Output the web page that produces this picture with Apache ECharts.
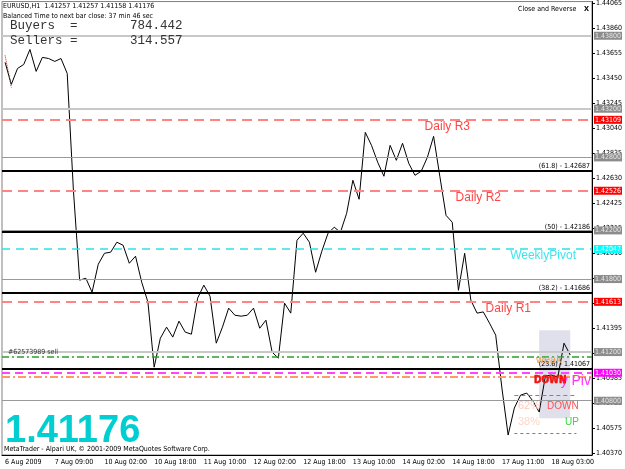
<!DOCTYPE html>
<html>
<head>
<meta charset="utf-8">
<script src="https://cdn.jsdelivr.net/npm/echarts@6/dist/echarts.min.js"></script>
<style>
html,body{margin:0;padding:0;background:#fff}
#main{width:625px;height:469px}
</style>
</head>
<body>
<div id="main"></div>
<script>
// trading hours shown on the H1 chart: day, first hour, last hour
var sessions = [['6 Aug',17,23],['7 Aug',0,22],['10 Aug',0,23],['11 Aug',0,23],['12 Aug',0,23],
    ['13 Aug',0,23],['14 Aug',0,22],['17 Aug',0,23],['18 Aug',0,23]];
// close every 2 hours
var closes = [1.43581,1.43400,1.43531,1.43564,1.43687,1.43507,1.43622,1.43613,1.43589,1.43613,
    1.43490,1.42530,1.41791,1.41807,1.41692,1.41922,1.42012,1.42021,1.42103,1.42078,
    1.41930,1.41988,1.41774,1.41610,1.41076,1.41314,1.41405,1.41323,1.41454,1.41364,
    1.41347,1.41643,1.41750,1.41659,1.41273,1.41405,1.41561,1.41503,1.41495,1.41503,
    1.41561,1.41396,1.41462,1.41199,1.41150,1.41602,1.41520,1.42119,1.42177,1.42103,
    1.41856,1.42029,1.42177,1.42226,1.42185,1.42341,1.42612,1.42456,1.43006,1.42899,
    1.42760,1.42645,1.42899,1.42776,1.42916,1.42751,1.42653,1.42686,1.42801,1.42973,
    1.42645,1.42324,1.42267,1.41708,1.42012,1.41626,1.41520,1.41530,1.41438,1.41339,
    1.40904,1.40518,1.40740,1.40846,1.40863,1.40797,1.40707,1.41002,1.41011,1.40994,
    1.41273,1.41176];
var zigzag = [1.43638,1.43375];
var yTicks = [1.40370,1.40575,1.40780,1.40985,1.41190,1.41395,1.41600,1.41805,1.42010,1.42215,
    1.42425,1.42630,1.42835,1.43040,1.43245,1.43450,1.43655,1.43860,1.44065];
var levelsLight = [1.43800,1.43200,1.41200];
var levelsThin = [1.42800,1.42200,1.41800,1.40800];
var dailyNames = ['Daily R3','Daily R2','Daily R1'];
var dailyLevels = [1.43109,1.42526,1.41613];
var weeklyPivot = 1.42047;
var fibNames = ['61.8','50','38.2','23.6'];
var fibLevels = [1.42687,1.42186,1.41686,1.41067];
var sellOrder = 1.41160;
var dailyPivot = 1.41030;
var orangeLevel = 1.40995;
var zone = [86,91,1.41380,1.40657];
var targetDown = 1.40846, targetUp = 1.40534;

var small = "'DejaVu Sans Condensed','Liberation Sans',sans-serif";
var sans = "'Liberation Sans',Arial,sans-serif";
var none = 'rgba(0,0,0,0)';

var hours = [];
sessions.forEach(function (s) {
    for (var h = s[1]; h <= s[2]; h++) hours.push(s[0] + ' ' + (h < 10 ? '0' : '') + h + ':00');
});
var categories = hours.filter(function (t, i) { return i % 2 === 0; }).slice(0, 95);

function tag(bg, fg) {
    return {show: true, position: 'end', distance: 2, backgroundColor: bg, color: fg,
        padding: [1, 1, 0, 1], fontSize: 7, fontFamily: small,
        formatter: function (p) { return p.value.toFixed(5); }};
}
function text(s, pos, color, size, padRight) {
    return {show: true, position: pos, distance: 1, formatter: s, color: color,
        fontSize: size, fontFamily: size > 9 ? sans : small, padding: [0, padRight || 0, 0, 0]};
}

var lines = [];
levelsLight.forEach(function (v) {
    lines.push({yAxis: v, lineStyle: {color: '#c8c8c8', width: 2, type: 'solid'}, label: tag('#8c8c8c', '#e8e8e8')});
});
levelsThin.forEach(function (v) {
    lines.push({yAxis: v, lineStyle: {color: '#9a9a9a', width: 1, type: 'solid'}, label: tag('#8c8c8c', '#e8e8e8')});
});
var dailyPad = [121, 90, 60];
dailyLevels.forEach(function (v, i) {
    lines.push({yAxis: v, lineStyle: {color: '#ff8585', width: 2, type: [10, 6]}, label: tag('#ff0000', '#ffffff')});
    lines.push({yAxis: v, lineStyle: {color: none}, label: text(dailyNames[i], 'insideEndBottom', '#ff4545', 12, dailyPad[i])});
});
lines.push({yAxis: weeklyPivot, lineStyle: {color: '#30e0e8', width: 1.5, type: [8, 6]}, label: tag('#00ffff', '#ffffff')});
lines.push({yAxis: weeklyPivot, lineStyle: {color: none}, label: text('WeeklyPivot', 'insideEndBottom', '#3ee4ee', 12, 15)});
lines.push({yAxis: sellOrder, lineStyle: {color: '#2ea02e', width: 1.5, type: [7, 3, 2, 3]},
    label: {show: true, position: 'insideStartTop', distance: 1, formatter: '#62573989 sell', color: '#333', fontSize: 7, fontFamily: small, padding: [0, 0, 0, 5]}});
lines.push({yAxis: orangeLevel, lineStyle: {color: '#ff9966', width: 2, type: [8, 3, 2, 3]}, label: {show: false}});
lines.push({yAxis: dailyPivot, lineStyle: {color: '#ff44ff', width: 2, type: [8, 5]}, label: tag('#ff00ff', '#ffffff')});
lines.push({yAxis: dailyPivot, lineStyle: {color: none}, label: text('y Piv', 'insideEndBottom', '#ff33ff', 14, 0)});
fibLevels.forEach(function (v, i) {
    lines.push({yAxis: v, lineStyle: {color: '#000', width: 2, type: 'solid'},
        label: text('(' + fibNames[i] + ') - ' + v.toFixed(5), 'insideEndTop', '#000', 7, 1)});
});
lines.push([{coord: [82, targetDown], lineStyle: {color: '#ff5050', width: 1, type: [4, 3]}}, {coord: [92, targetDown]}]);
lines.push([{coord: [82, targetUp], lineStyle: {color: '#808080', width: 1, type: [3, 3]}}, {coord: [92, targetUp]}]);

var myChart = echarts.init(document.getElementById('main'));
var option = {
    animation: false,
    backgroundColor: '#fff',
    grid: {left: 2, right: 32, top: 1, bottom: 14, show: true, borderColor: '#808080', borderWidth: 1},
    xAxis: {
        type: 'category', data: categories, boundaryGap: true,
        axisLine: {lineStyle: {color: '#000'}},
        axisTick: {interval: 7, alignWithLabel: true, length: 4, lineStyle: {color: '#000'}},
        axisLabel: {interval: 7, align: 'left', margin: 4, color: '#000', fontSize: 7, fontFamily: small,
            formatter: function (v, i) { return i === 0 ? '6 Aug 2009' : v; }},
        splitLine: {show: false}
    },
    yAxis: {
        type: 'value', position: 'right', min: 1.40354, max: 1.44081, scale: true,
        axisLine: {show: true, lineStyle: {color: '#000'}},
        axisTick: {show: true, length: 3, customValues: yTicks, lineStyle: {color: '#000'}},
        axisLabel: {customValues: yTicks, margin: 4, color: '#000', fontSize: 7, fontFamily: small,
            formatter: function (v) { return v.toFixed(5); }},
        splitLine: {show: false}
    },
    series: [
        {
            type: 'line', data: closes, symbol: 'none', lineStyle: {color: '#000', width: 1},
            markArea: {silent: true, itemStyle: {color: '#e0e0ec'},
                data: [[{xAxis: categories[zone[0]], yAxis: zone[2]}, {xAxis: categories[zone[1]], yAxis: zone[3]}]]},
            markLine: {silent: true, precision: 5, symbol: ['none', 'none'], data: lines}
        },
        {type: 'line', data: zigzag, symbol: 'none', lineStyle: {color: '#ff0000', width: 1, type: 'dotted'}}
    ],
    graphic: [
        {type: 'text', z: 100, x: 3, y: 6, style: {text: 'EURUSD,H1  1.41257 1.41257 1.41158 1.41176', font: '7px ' + small, fill: '#000', verticalAlign: 'middle'}},
        {type: 'text', z: 100, x: 3, y: 16, style: {text: 'Balanced Time to next bar close: 37 min 46 sec', font: '7px ' + small, fill: '#000', verticalAlign: 'middle'}},
        {type: 'text', z: 100, x: 10, y: 26, style: {text: 'Buyers  =       784.442', font: "12.5px 'Liberation Mono',monospace", fill: '#333', verticalAlign: 'middle'}},
        {type: 'text', z: 100, x: 10, y: 41, style: {text: 'Sellers =       314.557', font: "12.5px 'Liberation Mono',monospace", fill: '#333', verticalAlign: 'middle'}},
        {type: 'text', z: 100, x: 518, y: 9, style: {text: 'Close and Reverse', font: '7px ' + small, fill: '#000', verticalAlign: 'middle'}},
        {type: 'text', z: 100, x: 584, y: 9, style: {text: 'x', font: 'bold 9px ' + sans, fill: '#000', verticalAlign: 'middle'}},
        {type: 'text', z: 100, x: 5, y: 432, style: {text: closes[closes.length - 1].toFixed(5), font: 'bold 38px ' + sans, fill: '#00ced1', verticalAlign: 'middle'}},
        {type: 'text', z: 100, x: 4, y: 449, style: {text: 'MetaTrader - Alpari UK, \u00a9 2001-2009 MetaQuotes Software Corp.', font: '7px ' + small, fill: '#000', verticalAlign: 'middle'}},
        {type: 'text', z: 100, x: 536, y: 360, style: {text: 'weak', font: '11px ' + sans, fill: '#f0a040', verticalAlign: 'middle'}},
        {type: 'text', z: 100, x: 534, y: 380, style: {text: 'DOWN', font: 'bold 10px ' + small, fill: '#ff1010', stroke: '#c00000', lineWidth: 0.5, verticalAlign: 'middle'}},
        {type: 'text', z: 100, x: 518, y: 406, style: {text: '62%', font: '11px ' + sans, fill: '#ffc8b8', verticalAlign: 'middle'}},
        {type: 'text', z: 100, x: 547, y: 406, style: {text: 'DOWN', font: '10px ' + sans, fill: '#ff5050', verticalAlign: 'middle'}},
        {type: 'text', z: 100, x: 518, y: 422, style: {text: '38%', font: '11px ' + sans, fill: '#ffd6c8', verticalAlign: 'middle'}},
        {type: 'text', z: 100, x: 565, y: 422, style: {text: 'UP', font: '10px ' + sans, fill: '#33dd33', verticalAlign: 'middle'}}
    ]
};
myChart.setOption(option);
</script>
</body>
</html>
